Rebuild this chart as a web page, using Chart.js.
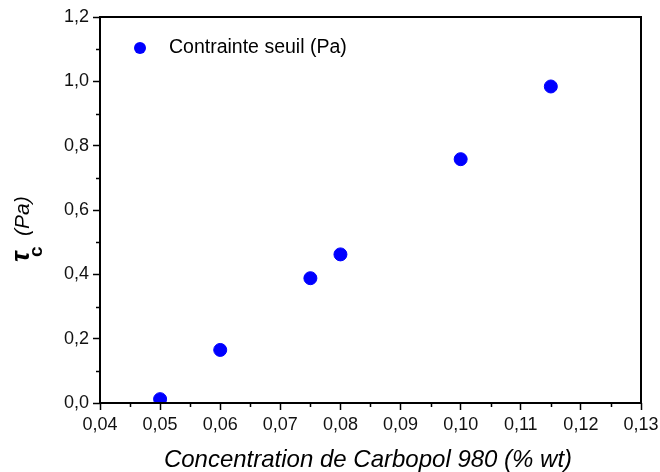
<!DOCTYPE html>
<html>
<head>
<meta charset="utf-8">
<script src="https://cdn.jsdelivr.net/npm/chart.js@4.4.0/dist/chart.umd.min.js"></script>
<style>
  body { margin: 0; background: #fff; }
</style>
</head>
<body>
<canvas id="canvas1" width="660" height="472"></canvas>
<script>
var concentration = [0.05, 0.06, 0.075, 0.08, 0.10, 0.115];
var seuil = [0.012, 0.165, 0.388, 0.462, 0.758, 0.984];
var seriesLabel = 'Contrainte seuil (Pa)';
var xTitle = 'Concentration de Carbopol 980 (% wt)';

var points = concentration.map(function(c, i){
    return { x: c, y: seuil[i] };
});

function comma(v, d){
    return v.toFixed(d).replace('.', ',');
}

var FONT = '"Liberation Sans", Arial, sans-serif';

// frame, minor ticks, legend and axis titles
var decor = {
    id: 'decor',
    afterDraw: function(chart){
        var ctx = chart.ctx;
        var a = chart.chartArea;
        var xs = chart.scales.x, ys = chart.scales.y;
        ctx.save();
        ctx.strokeStyle = '#000';
        ctx.lineWidth = 2;
        ctx.strokeRect(a.left, a.top, a.right - a.left, a.bottom - a.top);

        ctx.lineWidth = 1.5;
        ctx.beginPath();
        for (var v = 0.045; v < 0.13; v += 0.01) {
            var px = Math.round(xs.getPixelForValue(v)) + 0.5;
            ctx.moveTo(px, a.bottom);
            ctx.lineTo(px, a.bottom + 4);
        }
        for (var w = 0.1; w < 1.2; w += 0.2) {
            var py = Math.round(ys.getPixelForValue(w)) + 0.5;
            ctx.moveTo(a.left, py);
            ctx.lineTo(a.left - 4, py);
        }
        ctx.stroke();

        // legend
        ctx.fillStyle = '#0000ff';
        ctx.beginPath();
        ctx.arc(140, 48, 6, 0, Math.PI * 2);
        ctx.fill();
        ctx.fillStyle = '#000';
        ctx.font = '19.5px ' + FONT;
        ctx.textBaseline = 'middle';
        ctx.textAlign = 'left';
        ctx.fillText(chart.data.datasets[0].label, 169, 48);

        // x title
        ctx.font = 'italic 24px ' + FONT;
        ctx.textAlign = 'center';
        ctx.fillText(xTitle, 368, 460);

        // y title
        ctx.translate(29, 262);
        ctx.rotate(-Math.PI / 2);
        ctx.textAlign = 'left';
        ctx.textBaseline = 'alphabetic';
        ctx.font = 'italic bold 26px ' + FONT;
        ctx.fillText('\u03c4', 0, 0);
        ctx.font = 'bold 19px ' + FONT;
        ctx.fillText('c', 5, 13);
        ctx.font = 'italic 21px ' + FONT;
        ctx.fillText('(Pa)', 26, 0);
        ctx.restore();
    }
};

const ctx = document.getElementById('canvas1').getContext('2d');
const myChart = new Chart(ctx, {
    type: 'scatter',
    data: {
        datasets: [{
            label: seriesLabel,
            data: points,
            backgroundColor: '#0000ff',
            borderColor: '#0000ff',
            pointRadius: 6.5,
            pointHoverRadius: 6.5
        }]
    },
    options: {
        responsive: false,
        animation: false,
        layout: { padding: { top: 17, right: 19, left: 0, bottom: 0 } },
        plugins: {
            legend: { display: false },
            tooltip: { enabled: false }
        },
        scales: {
            x: {
                type: 'linear',
                min: 0.04,
                max: 0.13,
                afterFit: function(s){
                    s.height = 69;
                    s.paddingLeft = 0;
                    s.paddingRight = 0;
                },
                border: { display: false },
                grid: { drawOnChartArea: false, drawTicks: true, tickLength: 7, tickWidth: 1.5, color: '#000' },
                ticks: {
                    stepSize: 0.01,
                    padding: 4,
                    color: '#111',
                    font: { family: FONT, size: 18 },
                    callback: function(v){ return comma(v, 2); }
                }
            },
            y: {
                min: 0,
                max: 1.2,
                afterFit: function(s){
                    s.width = 100;
                    s.paddingTop = 0;
                    s.paddingBottom = 0;
                },
                border: { display: false },
                grid: { drawOnChartArea: false, drawTicks: true, tickLength: 7, tickWidth: 1.5, color: '#000' },
                ticks: {
                    stepSize: 0.2,
                    padding: 4,
                    color: '#111',
                    font: { family: FONT, size: 18 },
                    callback: function(v){ return comma(v, 1); }
                }
            }
        }
    },
    plugins: [decor]
});
</script>
</body>
</html>
